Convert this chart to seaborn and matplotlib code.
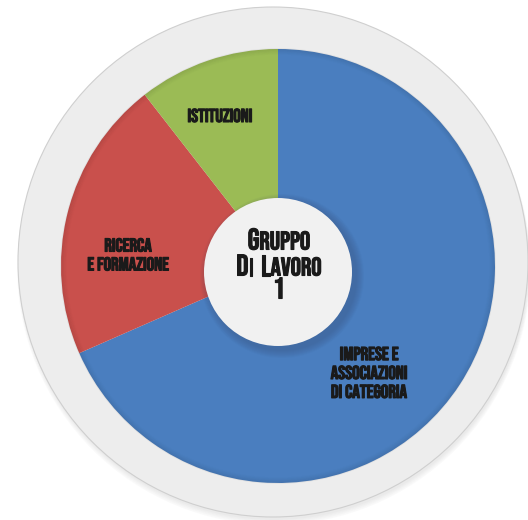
import matplotlib
matplotlib.use("Agg")
import matplotlib.pyplot as plt
from matplotlib import font_manager as fm
from matplotlib import patheffects as pe
from matplotlib.patches import Circle
from matplotlib.offsetbox import TextArea, HPacker, AnnotationBbox
import seaborn as sns

# Composition of working group 1 (number of members per category)
categories = ["IMPRESE E\nASSOCIAZIONI\nDI CATEGORIA", "RICERCA\nE FORMAZIONE", "ISTITUZIONI"]
members = [13, 4, 2]
colors = ["#4a7ebf", "#c9504c", "#9bbb55"]
# centre title in small caps: (initial capital, rest of the word) per word, per line
center_lines = [[("G", "RUPPO")], [("D", "I"), ("L", "AVORO")], [("1", "")]]

sns.set_theme(style="white")


def pick_font(candidates):
    for name in candidates:
        try:
            fm.findfont(fm.FontProperties(family=name), fallback_to_default=False)
            return name
        except ValueError:
            continue
    return "DejaVu Sans"


FONT = [pick_font(["Bebas Neue", "League Gothic", "Oswald"]), "DejaVu Sans"]
plt.rcParams["font.family"] = FONT

W, H = 528, 520
fig = plt.figure(figsize=(W / 100, H / 100), dpi=100)
ax = fig.add_axes([0, 0, 1, 1])
fig.patch.set_facecolor("white")


def yy(y):
    # top-down pixel row -> axis y
    return H - y


# outer grey disc with a soft shadow
for i in range(4):
    ax.add_patch(Circle((274, yy(265 + i)), 255 + i * 0.6, color="#9a9a9a", alpha=0.05, lw=0, zorder=1))
ax.add_patch(Circle((273, yy(262)), 255, facecolor="#ededed", edgecolor="#cfcfcf", lw=0.8, zorder=2))

# main pie
pc = (278, yy(266))
wedges, _ = ax.pie(members, colors=colors, startangle=90, counterclock=False,
                   center=pc, radius=217, frame=True,
                   wedgeprops=dict(linewidth=0))
for w in wedges:
    w.set_zorder(3)
# subtle darker rim along the outer edge of the pie
for k in range(6):
    ax.add_patch(Circle(pc, 217 - k, facecolor="none", edgecolor="black",
                        lw=1.2, alpha=0.05 * (6 - k) / 6, zorder=4))
ax.set_xlim(0, W)
ax.set_ylim(0, H)
ax.set_aspect("equal")
ax.axis("off")

# centre disc with shadow
cc = (278, yy(272))
for k in range(8):
    ax.add_patch(Circle((cc[0] + 4, cc[1] - 4), 74 + 8 - k, color="#2c3e60", alpha=0.035, lw=0, zorder=5))
ax.add_patch(Circle(cc, 74, facecolor="#f1f1f1", edgecolor="none", zorder=6))

ink = "#1a1a1a"
# a thin stroke in the ink colour gives the heavy condensed look
heavy = [pe.withStroke(linewidth=0.8, foreground=ink)]
txt = dict(color=ink, ha="center", va="center", linespacing=1.35, zorder=7,
           fontsize=13.5, path_effects=heavy)
label_pos = [(369, 372), (128, 254), (220, 115)]
for lab, (x, y) in zip(categories, label_pos):
    ax.text(x, yy(y), lab, **txt)

# small-caps centre title: one packed row of text pieces per line
big = dict(color=ink, fontsize=21.5, family=FONT, path_effects=heavy)
small = dict(color=ink, fontsize=18.5, family=FONT, path_effects=heavy)
row_y = [239, 265, 288]
for line, ry in zip(center_lines, row_y):
    words = []
    for cap, rest in line:
        parts = [TextArea(cap, textprops=big)]
        if rest:
            parts.append(TextArea(rest, textprops=small))
        words.append(HPacker(children=parts, align="baseline", pad=0, sep=0))
    row = HPacker(children=words, align="baseline", pad=0, sep=5)
    ax.add_artist(AnnotationBbox(row, (cc[0] + 1, yy(ry)), xycoords="data",
                                 frameon=False, box_alignment=(0.5, 0.5),
                                 pad=0, zorder=8))

fig.savefig("out.png", dpi=100)
